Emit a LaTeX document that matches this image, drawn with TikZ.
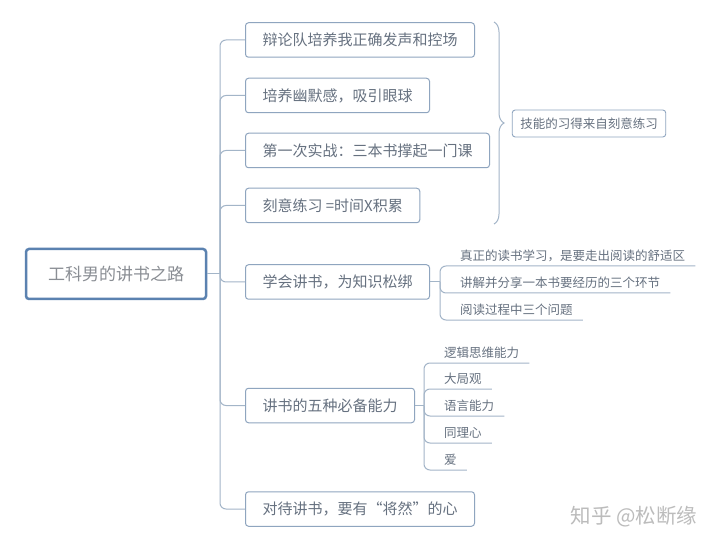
\documentclass[tikz,border=0pt]{standalone}
\usepackage{fontspec}
\setmainfont{Noto Sans CJK SC}
\usetikzlibrary{decorations.pathreplacing}
\definecolor{boxline}{HTML}{8FA5BF}
\definecolor{rootline}{HTML}{5B82B0}
\definecolor{conn}{HTML}{A3B5C8}
\definecolor{txt}{HTML}{667180}
\definecolor{roottxt}{HTML}{8A8E94}
\definecolor{wm}{HTML}{BCBCBC}
\tikzset{
  rootbox/.style={draw=rootline, line width=2.5pt, rounded corners=3pt, minimum width=180pt, minimum height=50pt, text=roottxt, font=\fontsize{17pt}{20pt}\selectfont},
  topic/.style={draw=boxline, line width=1pt, rounded corners=3pt, inner xsep=17pt, minimum height=34.5pt, text=txt, anchor=west, font=\fontsize{15pt}{18pt}\selectfont},
  sumbox/.style={draw=boxline, line width=0.9pt, rounded corners=3pt, inner xsep=8pt, minimum height=27pt, text=txt, font=\fontsize{12.5pt}{15pt}\selectfont},
  sub/.style={anchor=south west, inner xsep=10pt, inner ysep=3pt, text height=10pt, text depth=2.5pt, text=txt, font=\fontsize{12.5pt}{15pt}\selectfont},
  link/.style={draw=conn, line width=1pt, rounded corners=6pt},
  wmark/.style={text=wm, anchor=west, font=\fontsize{20.5pt}{24pt}\selectfont}
}
\begin{document}
\begin{tikzpicture}[x=1pt,y=-1pt]
\useasboundingbox[fill=white] (0,0) rectangle (720,545);
\node[rootbox] (root) at (116,274) {工科男的讲书之路};
\coordinate (t) at (220,274);
\node[topic] (c1) at (245,40) {辩论队培养我正确发声和控场};
\node[topic] (c2) at (245,95.5) {培养幽默感，吸引眼球};
\node[topic] (c3) at (245,150.5) {第一次实战：三本书撑起一门课};
\node[topic] (c4) at (245,205.5) {刻意练习 =时间X积累};
\node[topic] (c5) at (245,282) {学会讲书，为知识松绑};
\node[topic] (c6) at (245,405.5) {讲书的五种必备能力};
\node[topic] (c7) at (245,509) {对待讲书，要有“将然”的心};
\draw[link] (root.east) -- (t);
\foreach \c in {c1,c2,c3,c4,c5,c6,c7}{
  \draw[link] (t) |- (\c.west);
}
% brace and summary
\coordinate (b1) at (494,22);
\coordinate (b2) at (494,224);
\draw[draw=conn, line width=1pt, decorate, decoration={brace, amplitude=10pt}] (b1) -- (b2);
\node[sumbox] (sum) at (589,123.5) {技能的习得来自刻意练习};
% sub-branches of c5
\coordinate (j5) at (440,282);
\draw[link] (c5.east) -- (j5);
\node[sub] (s51) at (450,266) {真正的读书学习，是要走出阅读的舒适区};
\node[sub] (s52) at (450,293) {讲解并分享一本书要经历的三个环节};
\node[sub] (s53) at (450,320) {阅读过程中三个问题};
\foreach \s in {s51,s52,s53}{
  \draw[link] (j5) |- (\s.south east);
}
% sub-branches of c6
\coordinate (j6) at (424,405.5);
\draw[link] (c6.east) -- (j6);
\node[sub] (s61) at (434,363) {逻辑思维能力};
\node[sub] (s62) at (434,389) {大局观};
\node[sub] (s63) at (434,416) {语言能力};
\node[sub] (s64) at (434,443) {同理心};
\node[sub] (s65) at (434,470) {爱};
\foreach \s in {s61,s62,s63,s64,s65}{
  \draw[link] (j6) |- (\s.south east);
}
\node[wmark] (wmk) at (567,517) {知乎 @松断缘};
\end{tikzpicture}
\end{document}
